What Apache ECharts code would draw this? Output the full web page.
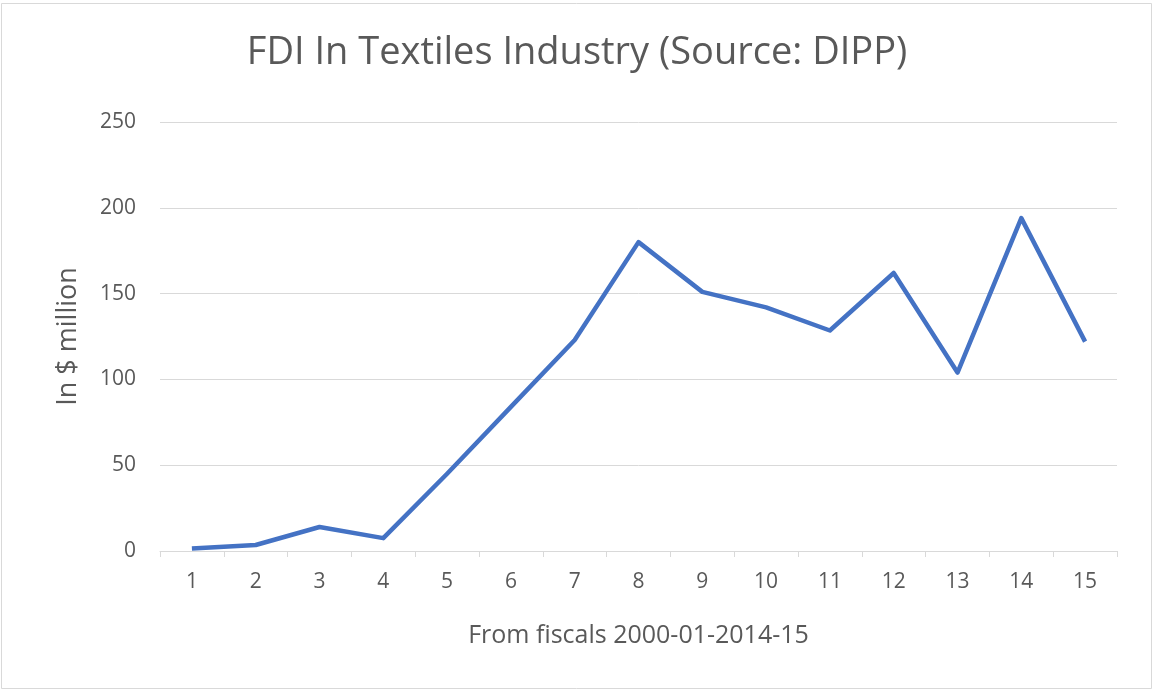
<!DOCTYPE html>
<html>
<head>
<meta charset="utf-8">
<script src="https://cdn.jsdelivr.net/npm/echarts@6/dist/echarts.min.js"></script>
<style>
  html, body { margin: 0; padding: 0; background: #ffffff; }
  #chart { width: 1154px; height: 691px; }
</style>
</head>
<body>
<div id="chart"></div>
<script>
// Fiscal years 2000-01 .. 2014-15, numbered 1..15
const categories = ['1', '2', '3', '4', '5', '6', '7', '8', '9', '10', '11', '12', '13', '14', '15'];
// FDI inflow, US$ million
const fdiValues = [1.5, 3.5, 14, 7.5, 45, 84, 123, 180, 151, 142, 128.5, 162, 104, 194, 122];
const yTicks = { min: 0, max: 250, interval: 50 };

const titleText = 'FDI In Textiles Industry (Source: DIPP)';
const xName = 'From fiscals 2000-01-2014-15';
const yName = 'In $ million';

const FONT = 'Open Sans, sans-serif';
const TEXT = '#595959';

const chart = echarts.init(document.getElementById('chart'));
chart.setOption({
  backgroundColor: '#ffffff',
  animation: false,
  graphic: [{
    type: 'rect',
    shape: { x: 1.5, y: 3.5, width: 1150, height: 685 },
    style: { fill: 'none', stroke: '#d9d9d9', lineWidth: 1 },
    silent: true
  }],
  title: {
    text: titleText,
    left: 'center',
    top: 29,
    textStyle: { fontFamily: FONT, fontSize: 38, fontWeight: 'normal', color: TEXT }
  },
  grid: { left: 160, right: 37, top: 122, bottom: 140, containLabel: false },
  xAxis: {
    type: 'category',
    data: categories,
    boundaryGap: true,
    name: xName,
    nameLocation: 'middle',
    nameGap: 72,
    nameTextStyle: { fontFamily: FONT, fontSize: 25, color: TEXT },
    axisLine: { show: true, lineStyle: { color: '#d9d9d9', width: 1 } },
    axisTick: { show: true, alignWithLabel: false, length: 6, lineStyle: { color: '#d9d9d9' } },
    axisLabel: { fontFamily: FONT, fontSize: 21, color: TEXT, margin: 21 },
    splitLine: { show: false }
  },
  yAxis: {
    type: 'value',
    min: yTicks.min,
    max: yTicks.max,
    interval: yTicks.interval,
    name: yName,
    nameLocation: 'middle',
    nameGap: 78,
    nameRotate: 90,
    nameTextStyle: { fontFamily: FONT, fontSize: 27, color: TEXT },
    axisLine: { show: false },
    axisTick: { show: false },
    axisLabel: { fontFamily: FONT, fontSize: 21, color: TEXT, margin: 24 },
    splitLine: { show: true, lineStyle: { color: '#d9d9d9', width: 1 } }
  },
  series: [{
    type: 'line',
    data: fdiValues,
    showSymbol: false,
    symbol: 'none',
    lineStyle: { color: '#4472c4', width: 4.5, join: 'round' },
    itemStyle: { color: '#4472c4' }
  }]
});
</script>
</body>
</html>
